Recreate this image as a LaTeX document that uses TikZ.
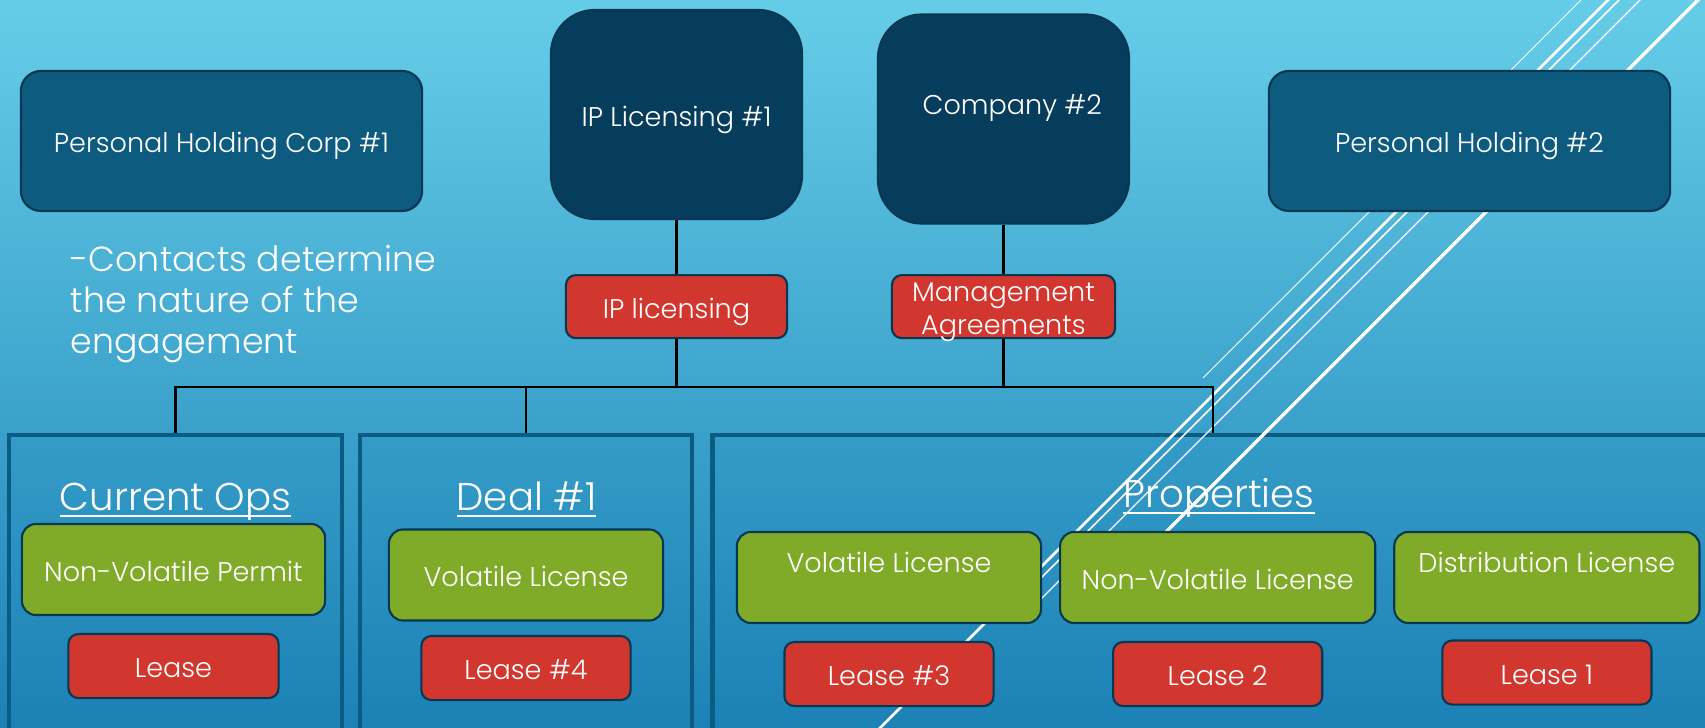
\documentclass[tikz,border=0pt]{standalone}
\usepackage{fontspec}
\IfFontExistsTF{Poppins Light}{\setmainfont{Poppins Light}}{\setmainfont{Poppins}}
\usetikzlibrary{positioning}
\definecolor{bgtop}{RGB}{102,205,232}
\definecolor{bgbot}{RGB}{28,130,182}
\definecolor{navy}{RGB}{6,61,92}
\definecolor{holdblue}{RGB}{13,92,128}
\definecolor{edgeblue}{RGB}{8,55,82}
\definecolor{boxred}{RGB}{209,55,46}
\definecolor{boxgreen}{RGB}{127,171,40}
\definecolor{framecol}{RGB}{11,92,130}

\begin{document}
\begin{tikzpicture}[x=0.01cm, y=-0.01cm, on grid,
    boxtext/.style={text=white, font=\fontsize{7.7}{9.4}\selectfont, text height=8.2pt, text depth=1.6pt},
    holding/.style={boxtext, draw=edgeblue, line width=0.6pt, fill=holdblue, rounded corners=5.7pt, minimum width=4.01cm, minimum height=1.40cm},
    company/.style={holding, fill=navy, rounded corners=12.5pt, minimum width=2.51cm, minimum height=2.09cm},
    redbox/.style={boxtext, draw=edgeblue, line width=0.6pt, fill=boxred, rounded corners=2.8pt, minimum width=2.09cm, minimum height=0.64cm, inner sep=1pt, align=center},
    greenbox/.style={boxtext, draw=edgeblue, line width=0.6pt, fill=boxgreen, rounded corners=4pt, minimum height=0.91cm},
    group/.style={draw=framecol, line width=1.3pt, fill=bgbot, fill opacity=0.15, minimum height=3.10cm},
    grouptitle/.style={text=white, font=\fontsize{11}{13}\selectfont, anchor=base},
    note/.style={text=white, font=\fontsize{9.9}{11.6}\selectfont, align=left, anchor=north west, inner sep=0pt},
    link/.style={draw=black, line width=0.6pt},
    deco/.style={draw=white}]

    % background
    \useasboundingbox (0,0) rectangle (1705,728);
    \clip (0,0) rectangle (1705,728);
    \shade[top color=bgtop, bottom color=bgbot] (0,0) rectangle (1705,728);

    % groups
    \node[group, minimum width=3.33cm] (curops) at (175.5,590) {};
    \node[group, minimum width=3.32cm] (deal) at (526,590) {};
    \node[group, minimum width=10cm] (props) at (1213,590) {};

    % white slashes
    \foreach \s/\w/\e in {1581/0.3/378, 1608/0.8/740, 1619/0.45/600, 1640/0.35/600, 1698/1.0/570}
        \draw[deco, line width=\w pt] (\s+10,-10) -- (\s-\e,\e);

    % top row
    \node[holding] (phc1) at (221.5,141) {Personal Holding Corp \#1};
    \node[holding] (ph2) at (1469.5,141) {Personal Holding \#2};
    \node[company] (ip1) at (676.5,114.5) {IP Licensing \#1};
    \node[company, text depth=10.6pt] (co2) at (1003.5,119) {\hspace*{5pt}Company \#2};

    \node[redbox, minimum width=2.21cm, minimum height=0.63cm, below=1.92cm of ip1] (iplic) {IP licensing};
    \node[redbox, minimum width=2.23cm, minimum height=0.63cm, text height={}, text depth={}, inner ysep=-2pt, below=1.875cm of co2] (mgmt) {\rule{0pt}{8.8pt}Management\\Agreements};

    \node[note] (remark) at (70,245) {-Contacts determine\\the nature of the\\engagement};

    % group titles
    \node[grouptitle] (curopsT) at (175.5,511) {\underline{\smash{Current Ops}}};
    \node[grouptitle] (dealT) at (526.5,511) {\underline{\smash{Deal \#1}}};
    \node[grouptitle] (propsT) at (1219,508) {\underline{\smash{Properties}}};

    % licenses
    \node[greenbox, minimum width=3.03cm] (nvp) at (173.5,569.5) {Non-Volatile Permit};
    \node[greenbox, minimum width=2.74cm] (vol1) at (526,575) {Volatile License};
    \node[greenbox, minimum width=3.04cm, text depth=10.8pt] (vol2) at (889,577.5) {Volatile License};
    \node[greenbox, minimum width=3.15cm, right=3.285cm of vol2] (nvl) {Non-Volatile License};
    \node[greenbox, minimum width=3.05cm, text depth=10.8pt, right=3.29cm of nvl] (dist) {Distribution License};

    % leases
    \node[redbox, minimum width=2.10cm, below=0.965cm of nvp] (lease) {Lease};
    \node[redbox, below=0.93cm of vol1] (lease4) {Lease \#4};
    \node[redbox, below=0.965cm of vol2] (lease3) {Lease \#3};
    \node[redbox, below=0.965cm of nvl] (lease2) {Lease 2};
    \node[redbox, below=0.95cm of dist] (lease1) {Lease 1};

    % connectors
    \coordinate (bus) at (0,387);
    \draw[link] (ip1) -- (iplic);
    \draw[link] (co2) -- (mgmt);
    \draw[link] (iplic) -- (iplic |- bus);
    \draw[link] (mgmt) -- (mgmt |- bus);
    \draw[link] (curops.north) -- (curops.north |- bus) -- (props.north |- bus) -- (props.north);
    \draw[link] (deal.north) -- (deal.north |- bus);
\end{tikzpicture}
\end{document}
